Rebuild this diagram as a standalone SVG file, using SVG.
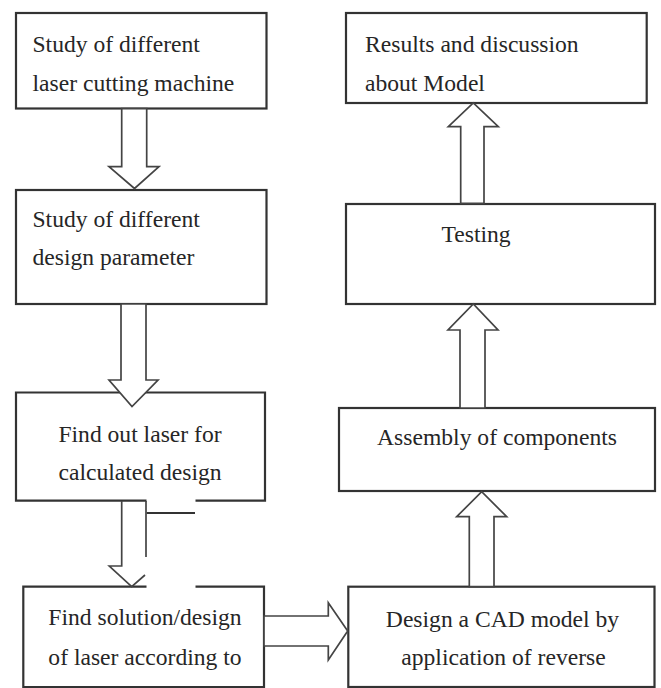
<svg xmlns="http://www.w3.org/2000/svg" width="661" height="688" viewBox="0 0 661 688">
<style>
.box{fill:#fff;stroke:#333;stroke-width:2.2}
.arr{fill:#fff;stroke:#444;stroke-width:1.7;stroke-linejoin:miter}
.ln{fill:none;stroke:#333;stroke-width:2.2}
.al{fill:none;stroke:#444;stroke-width:1.7}
text{font-family:"Liberation Serif","DejaVu Serif",serif;font-size:23.6px;fill:#262626}
.c{text-anchor:middle}
</style>
<rect width="661" height="688" fill="#fff"/>
<g id="n1"><rect class="box" x="16" y="13" width="250.5" height="95.5"/>
<text x="32.5" y="52">Study of different</text><text x="32.5" y="91">laser cutting machine</text></g>
<g id="n2"><rect class="box" x="16" y="190" width="250.5" height="114"/>
<text x="32.5" y="227">Study of different</text><text x="32.5" y="265">design parameter</text></g>
<g id="n3"><path class="ln" d="M146.5,500.7 H16 V392.5 H265 V500.7 H195.5"/>
<text class="c" x="140" y="442">Find out laser for</text><text class="c" x="140" y="480">calculated design</text></g>
<g id="n4"><path class="ln" d="M146.5,586.7 H23.3 V687 H264 V586.7 H195.5"/>
<text class="c" x="145" y="625">Find solution/design</text><text class="c" x="145" y="665">of laser according to</text></g>
<g id="n5"><rect class="box" x="346" y="13" width="300.7" height="90"/>
<text x="365" y="52">Results and discussion</text><text x="365" y="91">about Model</text></g>
<g id="n6"><rect class="box" x="346" y="204" width="309" height="100"/>
<text x="441.5" y="242">Testing</text></g>
<g id="n7"><rect class="box" x="339" y="408" width="316" height="83"/>
<text class="c" x="497" y="445">Assembly of components</text></g>
<g id="n8"><rect class="box" x="348.3" y="586.7" width="306.2" height="100.3"/>
<text class="c" x="502.5" y="627">Design a CAD model by</text><text class="c" x="503.5" y="665">application of reverse</text></g>
<g id="connectors">
<polygon class="arr" points="121.7,108.7 146.7,108.7 146.7,166.7 159,166.7 134.5,188.5 109,166.7 121.7,166.7"/>
<polygon class="arr" points="121,304 146,304 146,380 158,380 132,406.5 109,380 121,380"/>
<polyline class="al" points="121.7,501 121.7,566 109.3,566 131.7,586.7 145,575"/>
<line class="al" x1="146" y1="501" x2="146" y2="557"/>
<line class="ln" x1="146.7" y1="513" x2="195" y2="513"/>
<polygon class="arr" points="264,616 328.3,616 328.3,602.7 347.7,631 328.3,660 328.3,646 264,646"/>
<polygon class="arr" points="460.7,203.3 460.7,126.7 448.3,126.7 473.3,103 498.3,126.7 484,126.7 484,203.3"/>
<polygon class="arr" points="460,408 460,330 448,330 473.3,304 498,330 485,330 485,408"/>
<polygon class="arr" points="469.3,586.7 469.3,516.7 456.7,516.7 481.7,491.7 506.7,516.7 494,516.7 494,586.7"/>
</g>
</svg>
